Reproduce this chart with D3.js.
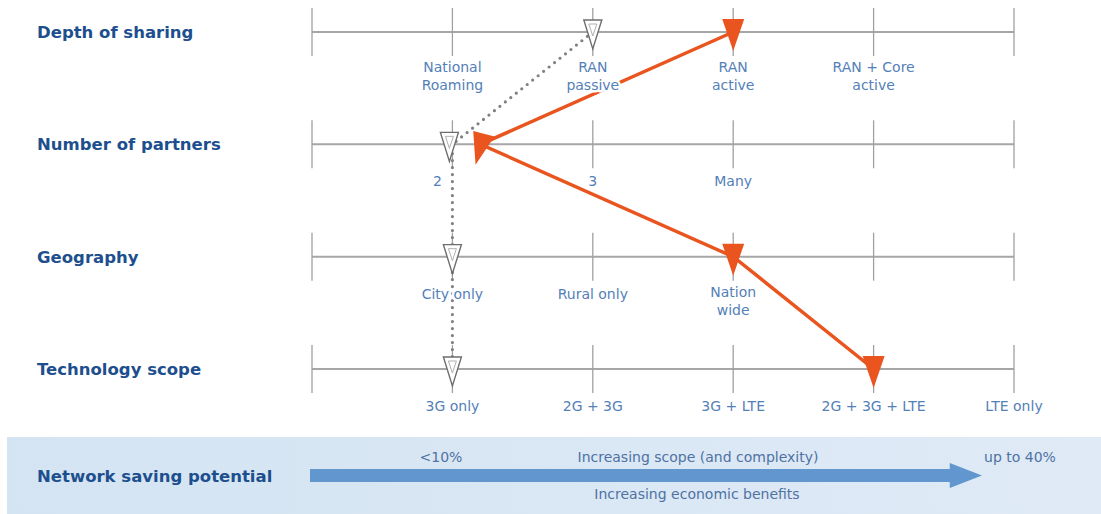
<!DOCTYPE html>
<html>
<head>
<meta charset="utf-8">
<script src="https://cdn.jsdelivr.net/npm/d3@7.9.0/dist/d3.min.js"></script>
<style>
  body { margin: 0; background: #fff; }
  svg { display: block; }
  .row-title { font-family: 'DejaVu Sans', sans-serif; font-weight: bold; font-size: 16.5px; fill: #1d4f8e; }
  .lbl { font-family: 'DejaVu Sans', sans-serif; font-size: 14px; fill: #5480b8; }
  .halo { stroke: #fff; stroke-width: 5px; paint-order: stroke; stroke-linejoin: round; }
  .band-txt { font-family: 'DejaVu Sans', sans-serif; font-size: 14px; fill: #4f72a3; }
</style>
</head>
<body>
<svg id="chart" width="1101" height="514"></svg>
<script>
// dimensions of the sharing decision
const rows = ['Depth of sharing', 'Number of partners', 'Geography', 'Technology scope'];

// option labels per row, by step on the scale (0..5)
const depthLabels = [null, 'National\nRoaming', 'RAN\npassive', 'RAN\nactive', 'RAN + Core\nactive', null];
const partnerLabels = [null, '2', '3', 'Many', null, null];
const geoLabels = [null, 'City only', 'Rural only', 'Nation\nwide', null, null];
const techLabels = [null, '3G only', '2G + 3G', '3G + LTE', '2G + 3G + LTE', 'LTE only'];
const allLabels = [depthLabels, partnerLabels, geoLabels, techLabels];

// chosen step per row: typical deal (dotted) vs. the highlighted deal (orange)
const typicalPath = [2, 1, 1, 1];
const highlightPath = [3, 1.2, 3, 4];

const savingLow = '<10%';
const savingHigh = 'up to 40%';
const arrowTop = 'Increasing scope (and complexity)';
const arrowBottom = 'Increasing economic benefits';
const bandTitle = 'Network saving potential';

const svg = d3.select('#chart');

const x = d3.scaleLinear().domain([0, 5]).range([312, 1014]);
const y = d3.scalePoint().domain(rows).range([32, 369]);
const steps = d3.range(0, 6);

// row titles
svg.selectAll('.row-title')
  .data(rows)
  .join('text')
  .attr('class', 'row-title')
  .attr('x', 37)
  .attr('y', d => y(d) + 6)
  .text(d => d);

// axis lines and ticks
rows.forEach(r => {
  const g = svg.append('g');
  g.append('line')
    .attr('x1', x(0)).attr('x2', x(5))
    .attr('y1', y(r)).attr('y2', y(r))
    .attr('stroke', '#a6a6a6').attr('stroke-width', 2);
  g.selectAll('.tick')
    .data(steps)
    .join('line')
    .attr('x1', d => x(d)).attr('x2', d => x(d))
    .attr('y1', y(r) - 24).attr('y2', y(r) + 24)
    .attr('stroke', '#a0a0a0').attr('stroke-width', 1.3);
});

// connecting lines
const pts = path => path.map((v, i) => [x(v), y(rows[i])]);

svg.append('path')
  .attr('d', d3.line()(pts(typicalPath)))
  .attr('fill', 'none')
  .attr('stroke', '#808080')
  .attr('stroke-width', 3.2)
  .attr('stroke-linecap', 'round')
  .attr('stroke-dasharray', '0,7');

svg.append('path')
  .attr('d', d3.line()(pts(highlightPath)))
  .attr('fill', 'none')
  .attr('stroke', '#e9541f')
  .attr('stroke-width', 3.5);

// option labels (white halo cuts the lines like in the original)
allLabels.forEach((labels, ri) => {
  labels.forEach((lab, si) => {
    if (!lab) return;
    const lines = lab.split('\n');
    const dx = (ri === 1 && si === 1) ? -15 : 0;
    const t = svg.append('text')
      .attr('class', 'lbl halo')
      .attr('text-anchor', 'middle')
      .attr('x', x(si) + dx)
      .attr('y', y(rows[ri]) + (lines.length > 1 ? 40 : 42));
    lines.forEach((ln, li) => {
      t.append('tspan')
        .attr('x', x(si) + dx)
        .attr('dy', li === 0 ? 0 : 18)
        .text(ln);
    });
  });
});

// markers
const hollow = 'M-9,-12L9,-12L0,17Z';
const solid = 'M-11,-13L11,-13L0,19Z';

svg.selectAll('.m-typ')
  .data(pts(typicalPath))
  .join('path')
  .attr('class', 'm-typ')
  .attr('d', hollow)
  .attr('transform', (d, i) => `translate(${d[0] - (i === 1 ? 3 : 0)},${d[1]})`)
  .attr('fill', '#fff')
  .attr('stroke', '#6e6e6e')
  .attr('stroke-width', 1.4);

svg.selectAll('.m-typ-in')
  .data(pts(typicalPath))
  .join('path')
  .attr('class', 'm-typ-in')
  .attr('d', 'M-4,-8L4,-8L0,4Z')
  .attr('transform', (d, i) => `translate(${d[0] - (i === 1 ? 3 : 0)},${d[1]})`)
  .attr('fill', 'none')
  .attr('stroke', '#b0b0b0')
  .attr('stroke-width', 1);

svg.selectAll('.m-hi')
  .data(pts(highlightPath))
  .join('path')
  .attr('class', 'm-hi')
  .attr('d', solid)
  .attr('transform', (d, i) => `translate(${d[0]},${d[1] + (i === 1 ? 2 : 0)}) rotate(${i === 1 ? 15 : 0})`)
  .attr('fill', '#e9541f');

// bottom band
const defs = svg.append('defs');
const grad = defs.append('linearGradient').attr('id', 'band');
grad.append('stop').attr('offset', '0%').attr('stop-color', '#d4e4f2');
grad.append('stop').attr('offset', '100%').attr('stop-color', '#dfeaf6');

svg.append('rect')
  .attr('x', 7).attr('y', 437)
  .attr('width', 1094).attr('height', 77)
  .attr('fill', 'url(#band)');

svg.append('text')
  .attr('class', 'row-title')
  .attr('x', 37).attr('y', 482)
  .text(bandTitle);

const ax = d3.scaleLinear().domain([0, 1]).range([310, 982]);
svg.append('path')
  .attr('d', d3.line()([
    [ax(0), 469], [ax(0.952), 469], [ax(0.952), 463], [ax(1), 475.5],
    [ax(0.952), 488], [ax(0.952), 482], [ax(0), 482]
  ]) + 'Z')
  .attr('fill', '#6197ce');

svg.append('text').attr('class', 'band-txt').attr('text-anchor', 'middle')
  .attr('x', 441).attr('y', 462).text(savingLow);
svg.append('text').attr('class', 'band-txt').attr('text-anchor', 'middle')
  .attr('x', 698).attr('y', 462).text(arrowTop);
svg.append('text').attr('class', 'band-txt').attr('text-anchor', 'middle')
  .attr('x', 1020).attr('y', 462).text(savingHigh);
svg.append('text').attr('class', 'band-txt').attr('text-anchor', 'middle')
  .attr('x', 697).attr('y', 499).text(arrowBottom);
</script>
</body>
</html>
